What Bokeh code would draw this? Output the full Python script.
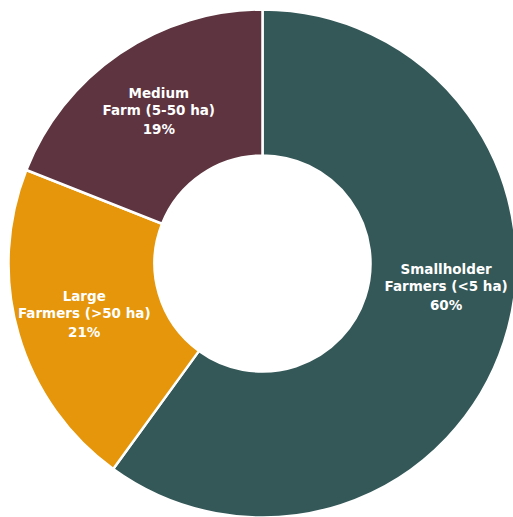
import math
from bokeh.plotting import figure
from bokeh.models import Range1d, ColumnDataSource
from bokeh.core.properties import value
from bokeh.embed import file_html
from bokeh.resources import INLINE

# ---- data ----
categories = ["Smallholder Farmers (<5 ha)", "Large Farmers (>50 ha)", "Medium Farm (5-50 ha)"]
label_lines = [["Smallholder", "Farmers (<5 ha)", "60%"],
               ["Large", "Farmers (>50 ha)", "21%"],
               ["Medium", "Farm (5-50 ha)", "19%"]]
shares = [60, 21, 19]
colors = ["#345858", "#e5960a", "#5d343f"]
label_angle_deg = [-7.0, 195.5, 124.1]   # where each label sits (degrees, math convention)

# ---- layout ----
W, H = 513, 517
cx_px, cy_px = 262, 263
R_OUT, R_IN = 254, 108
R_LABEL = 185

p = figure(width=W, height=H, output_backend="svg", toolbar_location=None,
           x_range=Range1d(-cx_px, W - cx_px), y_range=Range1d(-(H - cy_px), cy_px),
           min_border=0)
p.axis.visible = False
p.grid.visible = False
p.outline_line_color = None
p.background_fill_color = "white"
p.border_fill_color = "white"

total = sum(shares)
starts, ends = [], []
a = math.pi / 2
for s in shares:
    sweep = 2 * math.pi * s / total
    starts.append(a)
    ends.append(a - sweep)
    a -= sweep

src = ColumnDataSource(dict(x=[0] * len(shares), y=[0] * len(shares),
                            start=starts, end=ends, color=colors, name=categories))
p.annular_wedge(x="x", y="y", inner_radius=R_IN, outer_radius=R_OUT,
                start_angle="start", end_angle="end", direction="clock",
                fill_color="color", line_color="white", line_width=2.5, source=src)

xs, ys, texts = [], [], []
offsets = [17, 0, -19]
for lines, ang in zip(label_lines, label_angle_deg):
    lx = R_LABEL * math.cos(math.radians(ang))
    ly = R_LABEL * math.sin(math.radians(ang))
    for t, off in zip(lines, offsets):
        xs.append(lx)
        ys.append(ly + off)
        texts.append(t)

p.text(x=xs, y=ys, text=texts, text_align="center", text_baseline="middle",
       text_color="white", text_font=value("DejaVu Sans"), text_font_style="bold",
       text_font_size="13.5px")

open("out.html", "w").write(file_html(p, INLINE))
